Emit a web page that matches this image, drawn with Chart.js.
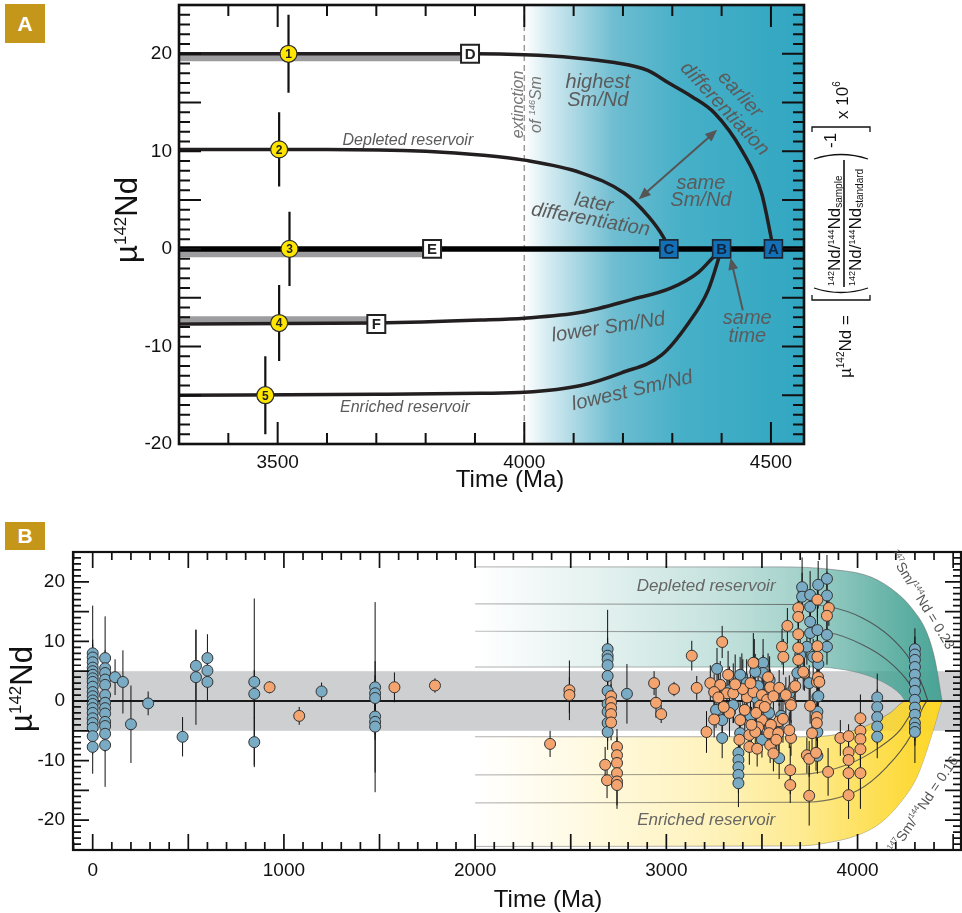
<!DOCTYPE html>
<html>
<head>
<meta charset="utf-8">
<script src="https://cdn.jsdelivr.net/npm/chart.js@4.4.1/dist/chart.umd.min.js"></script>
<style>
  body { margin: 0; background: #fff; }
  #wrap { position: relative; width: 962px; height: 913px; overflow: hidden; }
  canvas { position: absolute; left: 0; }
  #chartA { top: 0; }
  #chartB { top: 500px; }
  .tag { position: absolute; left: 5px; width: 40px; background: #c4961a; color: #fff;
         font: bold 21px 'Liberation Sans', Arial, sans-serif; text-align: center; }
</style>
</head>
<body>
<div id="wrap">
  <canvas id="chartA" width="962" height="500"></canvas>
  <canvas id="chartB" width="962" height="413"></canvas>
  <div class="tag" style="top:4px;height:39px;line-height:39px;">A</div>
  <div class="tag" style="top:522px;height:28px;line-height:28px;">B</div>
</div>
<script>
const FONT = "'Liberation Sans', Arial, Helvetica, sans-serif";
Chart.defaults.font.family = FONT;
Chart.defaults.color = '#111';

// ---------- panel A : model evolution curves (age in Ma, mu142Nd) ----------
const aTickX = [3500, 4000, 4500];
const aTickY = [-20, -10, 0, 10, 20];

const earlyAge = [3300, 3900, 4000, 4100, 4183, 4250, 4293, 4340, 4386, 4441, 4481, 4505];
const earlyMu  = [20, 20, 19.9, 19.6, 19.1, 18.3, 17.0, 15.6, 13.9, 10.1, 5.7, 0];
const laterAge = [3300, 3600, 3800, 3917, 4000, 4115, 4203, 4252, 4282, 4293];
const laterMu  = [10.2, 10.2, 10.0, 9.6, 9.1, 7.8, 5.7, 3.3, 1.2, 0];
const lowerAge = [3300, 3700, 3912, 4000, 4115, 4217, 4298, 4353, 4382, 4400];
const lowerMu  = [-7.7, -7.6, -7.3, -7.1, -6.5, -5.2, -4.0, -2.4, -0.9, 0];
const lowestAge = [3300, 3700, 3912, 4000, 4115, 4197, 4278, 4333, 4373, 4400];
const lowestMu  = [-15, -14.9, -14.8, -14.7, -14.0, -12.7, -10.9, -7.6, -4.2, 0];
const zeroAge = [3300, 4567];
const zeroMu  = [0, 0];

// grey measured ranges
const shadeDAge = [3300, 3890], shadeDMu = [19.6, 19.6];
const shadeEAge = [3300, 3813], shadeEMu = [-0.5, -0.5];
const shadeFAge = [3300, 3700], shadeFMu = [-7.2, -7.2];

// numbered samples
const markerAge = [3522, 3503, 3524, 3503, 3475];
const markerMu  = [20, 10.2, 0, -7.6, -15];
const markerErr = [4, 3.8, 3.8, 3.9, 4];
const markerLabel = ['1', '2', '3', '4', '5'];

const openAge = [3890, 3813, 3700];
const openMu  = [20, 0, -7.7];
const openLabel = ['D', 'E', 'F'];
const filledAge = [4293, 4400, 4505];
const filledMu  = [0, 0, 0];
const filledLabel = ['C', 'B', 'A'];

const extinctionAge = 4000;

// ---------- panel B : compiled measurements ----------
const bTickX = [0, 1000, 2000, 3000, 4000];
const bTickY = [-20, -10, 0, 10, 20];
const bandLow = -5, bandHigh = 5;

const blueAge = [
  0,0,0,0,0,0,0,0,0,0,0,0,0,0,0,0,0,0,0,0,
  65,65,65,65,65,65,65,65,65,65,65,65,65,
  117,158,200,290,470,540,540,600,600,600,845,845,845,1197,
  1477,1477,1477,1477,1477,1477,
  2693,2693,2693,2693,2693,2693,2693,2693,2693,2693,
  2794,
  3265,3260,3292,3292,3350,3395,3386,3386,3377,3377,3377,3377,3377,
  3460,3506,3506,3465,3480,3520,3537,3590,3643,3685,3700,
  3710,3710,3735,3752,3752,3752,3752,3768,3747,
  3790,3790,3790,3790,3790,3795,3795,3794,3840,3840,3840,3840,
  4103,4103,4103,4103,4103,
  4300,4300,4300,4300,4300,4300,4300,4300,4300,4300,4300,4300,4300,
  3420,3440,3470,3540,3600,3330,3500
];
const blueMu = [
  8.0,7.3,6.5,5.6,5.0,4.4,3.8,3.2,2.4,1.5,0.8,0.1,-0.5,-1.2,-2.0,-2.9,-3.7,-4.5,-5.9,-7.7,
  7.2,5.5,4.7,3.6,2.7,1.0,-0.3,-1.2,-2.1,-3.5,-4.2,-5.5,-7.4,
  4.0,3.2,-3.9,-0.4,-6.0,5.9,4.0,7.2,5.1,3.2,3.2,1.2,-6.9,1.6,
  2.3,1.3,0.5,-2.6,-3.5,-4.3,
  8.7,7.6,7.0,6.0,4.2,1.7,-0.5,-1.8,-3.7,-5.2,
  1.2,
  5.4,-1.5,-3.2,-6.2,-0.7,4.0,-5.4,4.4,-8.7,-9.9,-11.1,-12.4,-13.8,
  6.4,6.4,4.7,4.9,2.5,1.0,-2.0,-9.6,1.3,4.7,7.7,
  19.1,17.5,9.1,17.8,15.8,13.3,11.4,7.4,3.0,
  11.9,0.7,-1.8,-5.2,-9.2,6.2,0.8,19.5,20.5,17.7,11.1,9.1,
  0.6,-1.0,-2.7,-4.3,-6.0,
  8.7,7.8,6.9,5.7,4.4,3.0,1.7,0.2,-1.1,-2.3,-3.7,-4.5,-5.2,
  3.0,-2.5,0.5,3.5,-2.5,1.8,-6.5
];
const blueErr = [
  8,3,3,3,3,3,3,3,3,3,3,3,3,3,3,3,3,3,3,4.5,
  7,3,3,3,3,3,3,3,3,3,3,3,7,
  3,5.3,6.5,2,3.3,6,8,4,3,3.2,14,4,4.2,1.5,
  14.3,3,3,3,3,11,
  6.6,3,3,3,3,3,3,3,3,3,
  5,
  3.5,3,3,3.4,3,4,3,3,3,3,3,3,4,
  4,4,3,3,3,3,3,3.5,3,3,3,
  5,4,3,4,3,3,3,3,3,
  4,3,3,3,3,3,3,4,4,4,3,3,
  4,3,3,3,3.6,
  3.5,3,3,3,3,3,3,3,3,3,3,3,5.2,
  4,3,3,4,3,4,3
];

const orangeAge = [
  925,1080,1578,1790,2392,2493,2493,
  2680,2690,2711,2711,2711,2711,2711,2742,2742,2742,2742,2742,2742,
  2936,2946,2973,3040,3133,3159,3210,3292,3230,3282,3250,3250,3317,3350,3323,3272,
  3422,3386,3382,3434,3434,3455,3455,3532,3543,3543,3500,3500,3527,3490,
  3590,3590,3547,3480,3537,3465,3585,3475,3668,3674,3648,3648,3648,3652,3652,3643,
  3722,3716,3752,3762,3735,3747,3747,3846,3783,3787,3787,3787,3793,3800,
  3690,3690,3690,3690,3690,3790,3790,3790,3850,3840,3633,3605,3612,
  3910,3953,3953,3953,3953,3953,4015,4015,4015,4015,4015,
  3400,3410,3440,3470,3515,3560,3575,3610,3625,3560,3330,3300,3360,3445
];
const orangeMu = [
  2.3,-2.5,2.3,2.6,-7.2,1.8,1.0,
  -10.7,-13.3,0.8,-0.2,-1.2,-2.2,-3.6,-7.7,-9.1,-10.4,-12.1,-13.5,-14.1,
  3.0,-0.3,-2.2,2.0,7.6,2.2,-5.2,9.9,3.0,2.7,1.5,-3.1,1.3,1.3,4.4,0.6,
  0.6,-3.2,-6.5,-5.7,-7.7,6.4,1.5,4.0,2.3,-7.4,1.0,-3.2,0.2,-0.8,
  -3.4,2.2,-4.0,-4.4,-5.4,-5.2,-5.4,-8.0,2.3,2.5,-0.3,-11.6,-14.1,-0.7,-6.2,-4.9,
  4.7,4.9,-0.8,-5.4,-9.1,-9.7,-15.9,-11.9,-8.7,3.2,-2.7,-3.7,4.0,3.2,
  15.6,14.1,11.2,8.9,6.9,17.0,9.2,7.4,15.6,14.3,12.6,9.1,7.4,
  -6.2,-5.9,-8.6,-9.9,-12.1,-15.8,-2.9,-5.0,-6.4,-8.1,-12.1,
  2.0,-1.5,3.0,-2.0,-1.0,0.8,-6.5,-3.0,1.0,-8.8,-2.0,-1.0,2.8,-4.0
];
const orangeErr = [
  1,1.5,2.5,1.2,2.2,5,3,
  3,3,3,3,3,3,3,3,3,3,3,4,4,
  2,2.5,1.5,1.2,2.5,2,3.5,2.7,3,4,3,3,4,5,4,4,
  4,3,3,3,3,5,4,4,3,3,3,3,3,3,
  3,3,3,3,3,3,3,3,3,3,3,4,3,3,3,3,
  3,3,3,3,3,3,5,4,3,3,3,3,3,3,
  3,3,3,3,3,3,3,3,3,3,3,3,3,
  3,2,3,3,3,4,4,3,3,3,6,
  5,4,4,3,4,3,3,4,3,3,4,3,5,3
];

// reservoir envelopes (147Sm/144Nd = 0.23 and 0.16)
const depTopAge = [2000, 3600, 3855, 4070, 4206, 4290, 4363, 4405, 4442];
const depTopMu  = [22.5, 22.5, 22.1, 20.8, 18.1, 15.3, 11.4, 6.9, 0];
const depBotAge = [2000, 3800, 3900, 4000, 4100, 4180, 4225, 4255, 4442];
const depBotMu  = [5.7, 5.7, 5.4, 4.8, 3.7, 2.3, 1.1, 0, 0];
const depL1Age = [2000, 3700, 3855, 4028, 4170, 4275, 4343, 4368];
const depL1Mu  = [16.3, 16.2, 15.8, 13.9, 10.8, 6.9, 2.3, 0];
const depL2Age = [2000, 3700, 3855, 4028, 4153, 4258, 4322];
const depL2Mu  = [11.7, 11.6, 11.4, 9.4, 6.9, 3.5, 0];
const enrTopAge = [2000, 3700, 3855, 4028, 4170, 4255, 4440];
const enrTopMu  = [-6, -6, -5.8, -4.4, -2.0, 0, 0];
const enrBotAge = [2000, 3700, 3855, 4000, 4118, 4222, 4311, 4380, 4440];
const enrBotMu  = [-24.4, -24.3, -23.7, -22.5, -20.5, -17.1, -12.7, -6.5, 0];
const enrL1Age = [2000, 3700, 3945, 4118, 4222, 4290, 4318];
const enrL1Mu  = [-12.4, -12.3, -10.7, -7.7, -4.9, -1.5, 0];
const enrL2Age = [2000, 3700, 4000, 4155, 4275, 4343, 4362];
const enrL2Mu  = [-17.1, -17.0, -15.0, -11.0, -6.0, -1.0, 0];
const fadeStartAge = 2000, fadeEndAge = 4450;

// ---------- helpers ----------
function pts(ages, mus) { return ages.map((a, i) => ({x: a, y: mus[i]})); }
function errBars(ages, mus, errs) {
  const out = [];
  ages.forEach((a, i) => {
    out.push({x: a, y: mus[i] - errs[i]}, {x: a, y: mus[i] + errs[i]}, {x: a, y: null});
  });
  return out;
}
function drawRuns(ctx, runs, x, y, style, align) {
  let total = 0;
  const w = runs.map(r => {
    ctx.font = `${style}${r[1]}px ${FONT}`;
    const m = ctx.measureText(r[0]).width; total += m; return m;
  });
  let cx = align === 'center' ? x - total / 2 : x;
  ctx.textAlign = 'left';
  ctx.textBaseline = 'alphabetic';
  runs.forEach((r, i) => {
    ctx.font = `${style}${r[1]}px ${FONT}`;
    ctx.fillText(r[0], cx, y - (r[2] || 0));
    cx += w[i];
  });
}
function drawNote(chart, n) {
  const {ctx, scales: {x, y}} = chart;
  ctx.save();
  ctx.translate(x.getPixelForValue(n.age), y.getPixelForValue(n.mu));
  ctx.rotate((n.angle || 0) * Math.PI / 180);
  ctx.fillStyle = n.color;
  n.lines.forEach((line, i) => {
    const runs = typeof line === 'string' ? [[line, n.size, 0]] : line;
    const yy = (i - (n.lines.length - 1) / 2) * (n.gap || 0) + n.size * 0.36;
    drawRuns(ctx, runs, 0, yy, n.italic ? 'italic ' : '', 'center');
  });
  ctx.restore();
}
function fadeFill(rgb, lo) {
  return (c) => {
    const chart = c.chart;
    if (!chart.chartArea) return `rgba(${rgb},0.5)`;
    const xs = chart.scales.x;
    const g = chart.ctx.createLinearGradient(xs.getPixelForValue(fadeStartAge), 0, xs.getPixelForValue(fadeEndAge), 0);
    const stops = [[0, 0], [0.25, 0.14], [0.5, 0.3], [0.7, 0.5], [0.9, 0.85], [1, 1]];
    stops.forEach(s => g.addColorStop(s[0], `rgba(${rgb},${(lo + s[1] * (1 - lo)).toFixed(3)})`));
    return g;
  };
}

// ---------- plugins ----------
const frameTicks = {
  id: 'frameTicks',
  afterDatasetsDraw(chart, args, o) {
    const {ctx, chartArea: a, scales: {x, y}} = chart;
    ctx.save();
    ctx.strokeStyle = '#111';
    ctx.lineWidth = o.tickWidth;
    ctx.beginPath();
    for (let k = Math.ceil(x.min / o.xMinor); k * o.xMinor <= x.max; k++) {
      const v = k * o.xMinor, px = x.getPixelForValue(v);
      const len = v % o.xMajor === 0 ? o.majorLen : o.minorLen;
      ctx.moveTo(px, a.bottom); ctx.lineTo(px, a.bottom - len);
      ctx.moveTo(px, a.top); ctx.lineTo(px, a.top + len);
    }
    for (let k = Math.ceil(y.min / o.yMinor); k * o.yMinor <= y.max; k++) {
      const v = k * o.yMinor, py = y.getPixelForValue(v);
      const len = v % o.yMajor === 0 ? o.majorLen : o.minorLen;
      ctx.moveTo(a.left, py); ctx.lineTo(a.left + len, py);
      ctx.moveTo(a.right, py); ctx.lineTo(a.right - len, py);
    }
    ctx.stroke();
    ctx.lineWidth = o.frameWidth;
    ctx.strokeRect(a.left, a.top, a.right - a.left, a.bottom - a.top);
    ctx.restore();
  }
};

const pointLabels = {
  id: 'pointLabels',
  afterDatasetsDraw(chart) {
    const ctx = chart.ctx;
    chart.data.datasets.forEach((ds, i) => {
      if (!ds.pointText) return;
      const meta = chart.getDatasetMeta(i);
      ctx.save();
      ctx.font = `bold ${ds.textSize}px ${FONT}`;
      ctx.fillStyle = ds.textColor;
      ctx.textAlign = 'center';
      ctx.textBaseline = 'middle';
      meta.data.forEach((el, j) => ctx.fillText(ds.pointText[j], el.x, el.y + 1));
      ctx.restore();
    });
  }
};

const notesPlugin = {
  id: 'notes',
  afterDatasetsDraw(chart, args, o) {
    (o.items || []).forEach(n => drawNote(chart, n));
    const ctx = chart.ctx;
    (o.arrows || []).forEach(ar => {
      const {x, y} = chart.scales;
      const x0 = x.getPixelForValue(ar.from[0]), y0 = y.getPixelForValue(ar.from[1]);
      const x1 = x.getPixelForValue(ar.to[0]), y1 = y.getPixelForValue(ar.to[1]);
      const ang = Math.atan2(y1 - y0, x1 - x0);
      const head = (hx, hy, an) => {
        ctx.beginPath();
        ctx.moveTo(hx, hy);
        ctx.lineTo(hx - 12 * Math.cos(an) + 5 * Math.sin(an), hy - 12 * Math.sin(an) - 5 * Math.cos(an));
        ctx.lineTo(hx - 12 * Math.cos(an) - 5 * Math.sin(an), hy - 12 * Math.sin(an) + 5 * Math.cos(an));
        ctx.closePath(); ctx.fill();
      };
      ctx.save();
      ctx.strokeStyle = ctx.fillStyle = '#555';
      ctx.lineWidth = 2;
      ctx.beginPath();
      ctx.moveTo(x0 + (ar.both ? 8 * Math.cos(ang) : 0), y0 + (ar.both ? 8 * Math.sin(ang) : 0));
      ctx.lineTo(x1 - 8 * Math.cos(ang), y1 - 8 * Math.sin(ang));
      ctx.stroke();
      head(x1, y1, ang);
      if (ar.both) head(x0, y0, ang + Math.PI);
      ctx.restore();
    });
  }
};

const titlesPlugin = {
  id: 'titles',
  afterDraw(chart, args, o) {
    const ctx = chart.ctx;
    ctx.save();
    ctx.fillStyle = '#111';
    ctx.translate(o.yTitle[0], o.yTitle[1]);
    ctx.rotate(-Math.PI / 2);
    drawRuns(ctx, [['\u00b5', 31, 0], ['142', 17, 11], ['Nd', 31, 0]], 0, 0, '', 'center');
    ctx.restore();
    ctx.save();
    ctx.fillStyle = '#111';
    drawRuns(ctx, [['Time (Ma)', 24, 0]], o.xTitle[0], o.xTitle[1], '', 'center');
    ctx.restore();
    if (o.formula) drawFormula(ctx, o.formula[0], o.formula[1]);
  }
};

function drawFormula(ctx, ox, oy) {
  ctx.save();
  ctx.translate(ox, oy);
  ctx.rotate(-Math.PI / 2);
  ctx.fillStyle = '#111';
  ctx.strokeStyle = '#111';
  drawRuns(ctx, [['\u00b5', 17, 0], ['142', 10, 7], ['Nd =', 17, 0]], 32, 6, '', 'left');
  ctx.lineWidth = 1.3;
  ctx.beginPath();
  ctx.moveTo(115, -33); ctx.lineTo(110, -33); ctx.lineTo(110, 25); ctx.lineTo(115, 25);
  ctx.moveTo(122, -31); ctx.quadraticCurveTo(113, -4, 122, 23);
  ctx.moveTo(251, -31); ctx.quadraticCurveTo(260, -4, 251, 23);
  ctx.moveTo(278, -33); ctx.lineTo(283, -33); ctx.lineTo(283, 25); ctx.lineTo(278, 25);
  ctx.stroke();
  ctx.lineWidth = 1.6;
  ctx.beginPath(); ctx.moveTo(123, -1); ctx.lineTo(250, -1); ctx.stroke();
  drawRuns(ctx, [['142', 9, 6], ['Nd/', 17, 0], ['144', 9, 6], ['Nd', 17, 0], ['sample', 10, -2]], 124, -5, '', 'left');
  drawRuns(ctx, [['142', 9, 6], ['Nd/', 17, 0], ['144', 9, 6], ['Nd', 17, 0], ['standard', 10, -2]], 124, 16, '', 'left');
  drawRuns(ctx, [['-1', 17, 0]], 262, -9, '', 'left');
  drawRuns(ctx, [['x 10', 17, 0], ['6', 10, 8]], 291, 3, '', 'left');
  ctx.restore();
}

const backdropA = {
  id: 'backdropA',
  beforeDatasetsDraw(chart) {
    const {ctx, chartArea: a, scales: {x}} = chart;
    const x0 = x.getPixelForValue(extinctionAge);
    const g = ctx.createLinearGradient(x0, 0, a.right, 0);
    g.addColorStop(0, '#ffffff');
    g.addColorStop(0.08, '#d7ecf2');
    g.addColorStop(0.32, '#6fbdd1');
    g.addColorStop(0.56, '#47b0c8');
    g.addColorStop(1, '#31a6c1');
    ctx.save();
    ctx.fillStyle = g;
    ctx.fillRect(x0, a.top, a.right - x0, a.bottom - a.top);
    ctx.setLineDash([6, 4]);
    ctx.strokeStyle = '#9a9a9a';
    ctx.lineWidth = 1.5;
    ctx.beginPath(); ctx.moveTo(x0, a.top); ctx.lineTo(x0, a.bottom); ctx.stroke();
    ctx.restore();
  }
};

const backdropB = {
  id: 'backdropB',
  beforeDatasetsDraw(chart) {
    const {ctx, chartArea: a, scales: {y}} = chart;
    const y0 = y.getPixelForValue(bandHigh), y1 = y.getPixelForValue(bandLow);
    ctx.save();
    ctx.fillStyle = '#cdcfd1';
    ctx.fillRect(a.left, y0, a.right - a.left, y1 - y0);
    ctx.restore();
  }
};

function axis(min, max, ticks, size, padding, fit) {
  return {
    type: 'linear', min, max,
    grid: {display: false, drawTicks: false},
    border: {display: false},
    ticks: {padding, font: {size: 19}, color: '#111', maxRotation: 0, autoSkip: false, callback: v => String(v)},
    afterBuildTicks: s => { s.ticks = ticks.map(v => ({value: v})); },
    afterFit: s => {
      if (fit === 'w') s.width = size; else s.height = size;
      s.paddingLeft = s.paddingRight = s.paddingTop = s.paddingBottom = 0;
    }
  };
}

function curve(ages, mus, extra) {
  return Object.assign({
    data: pts(ages, mus), showLine: true, pointRadius: 0, borderColor: '#231f20',
    borderWidth: 3.5, cubicInterpolationMode: 'monotone', fill: false
  }, extra);
}

// ---------- chart A ----------
const noteGrey = '#5b5b5b';
new Chart(document.getElementById('chartA'), {
  type: 'line',
  data: {
    datasets: [
      curve(shadeDAge, shadeDMu, {borderColor: '#9d9d9f', borderWidth: 7, order: 9}),
      curve(shadeEAge, shadeEMu, {borderColor: '#9d9d9f', borderWidth: 7, order: 9}),
      curve(shadeFAge, shadeFMu, {borderColor: '#9d9d9f', borderWidth: 6, order: 9}),
      curve(earlyAge, earlyMu, {order: 8}),
      curve(laterAge, laterMu, {order: 8}),
      curve(lowerAge, lowerMu, {order: 8}),
      curve(lowestAge, lowestMu, {order: 8}),
      curve(zeroAge, zeroMu, {borderColor: '#000', borderWidth: 5.5, order: 8}),
      {data: errBars(markerAge, markerMu, markerErr), showLine: true, pointRadius: 0,
       borderColor: '#111', borderWidth: 2.2, spanGaps: false, order: 7},
      {data: pts(markerAge, markerMu), showLine: false, pointRadius: 8.5,
       pointBackgroundColor: '#ffe600', pointBorderColor: '#2b2b2b', pointBorderWidth: 1.2,
       pointText: markerLabel, textColor: '#222', textSize: 12, order: 6},
      {data: pts(openAge, openMu), showLine: false, pointStyle: 'rect', pointRadius: 12.7,
       pointBackgroundColor: '#ffffff', pointBorderColor: '#222', pointBorderWidth: 2,
       pointText: openLabel, textColor: '#222', textSize: 15, order: 5},
      {data: pts(filledAge, filledMu), showLine: false, pointStyle: 'rect', pointRadius: 12.7,
       pointBackgroundColor: '#136fb6', pointBorderColor: '#1d2733', pointBorderWidth: 1.6,
       pointText: filledLabel, textColor: '#10243d', textSize: 15, order: 5}
    ]
  },
  options: {
    responsive: false, animation: false, devicePixelRatio: 1, events: [],
    layout: {autoPadding: false, padding: {left: 0, top: 5, right: 158, bottom: 0}},
    scales: {
      x: axis(3300, 4567, aTickX, 56, 7, 'h'),
      y: axis(-20, 25, aTickY, 179, 7, 'w')
    },
    plugins: {
      legend: {display: false}, tooltip: {enabled: false},
      frameTicks: {xMinor: 100, xMajor: 500, yMinor: 1, yMajor: 5, minorLen: 11, majorLen: 22, tickWidth: 2, frameWidth: 2.6},
      titles: {yTitle: [137, 220], xTitle: [510, 487], formula: [845, 410]},
      notes: {
        items: [
          {age: 3764, mu: 11.2, size: 16, italic: true, color: noteGrey, lines: ['Depleted reservoir']},
          {age: 3758, mu: -16.1, size: 16, italic: true, color: noteGrey, lines: ['Enriched reservoir']},
          {age: 4003, mu: 14.8, angle: -90, size: 16, gap: 18, italic: true, color: '#777',
           lines: ['extinction', [['of ', 16, 0], ['146', 9, 6], ['Sm', 16, 0]]]},
          {age: 4149, mu: 16.3, size: 20, gap: 18.5, italic: true, color: noteGrey, lines: ['highest', 'Sm/Nd']},
          {age: 4424, mu: 15.2, angle: 47, size: 20, gap: 21, italic: true, color: noteGrey, lines: ['earlier', 'differentiation']},
          {age: 4358, mu: 6.0, size: 20, gap: 17.5, italic: true, color: noteGrey, lines: ['same', 'Sm/Nd']},
          {age: 4138, mu: 4.0, angle: 10, size: 20, gap: 17, italic: true, color: noteGrey, lines: ['later', 'differentiation']},
          {age: 4170, mu: -7.9, angle: -8.5, size: 20, italic: true, color: noteGrey, lines: ['lower Sm/Nd']},
          {age: 4218, mu: -14.4, angle: -13, size: 20, italic: true, color: noteGrey, lines: ['lowest Sm/Nd']},
          {age: 4452, mu: -7.9, size: 20, gap: 18, italic: true, color: noteGrey, lines: ['same', 'time']}
        ],
        arrows: [
          {from: [4232, 5.1], to: [4391, 12.2], both: true},
          {from: [4443, -6.3], to: [4418, -0.9], both: false}
        ]
      }
    }
  },
  plugins: [backdropA, frameTicks, pointLabels, notesPlugin, titlesPlugin]
});

// ---------- chart B ----------
const edge = 'rgba(110,110,110,0.55)';
const innerLine = fadeFill('70,70,70', 0.35);
new Chart(document.getElementById('chartB'), {
  type: 'line',
  data: {
    datasets: [
      curve(depTopAge, depTopMu, {borderColor: edge, borderWidth: 1, fill: '+1', backgroundColor: fadeFill('72,164,150', 0), order: 10}),
      curve(depBotAge, depBotMu, {borderColor: edge, borderWidth: 1, order: 10}),
      curve(enrTopAge, enrTopMu, {borderColor: edge, borderWidth: 1, fill: '+1', backgroundColor: fadeFill('253,214,35', 0), order: 10}),
      curve(enrBotAge, enrBotMu, {borderColor: edge, borderWidth: 1, order: 10}),
      curve(depL1Age, depL1Mu, {borderColor: innerLine, borderWidth: 1.1, order: 9}),
      curve(depL2Age, depL2Mu, {borderColor: innerLine, borderWidth: 1.1, order: 9}),
      curve(enrL1Age, enrL1Mu, {borderColor: innerLine, borderWidth: 1.1, order: 9}),
      curve(enrL2Age, enrL2Mu, {borderColor: innerLine, borderWidth: 1.1, order: 9}),
      curve([-103, 4541], [0, 0], {borderColor: '#1a1a1a', borderWidth: 2, order: 8}),
      {data: errBars(blueAge, blueMu, blueErr).concat(errBars(orangeAge, orangeMu, orangeErr)),
       showLine: true, pointRadius: 0, borderColor: '#111', borderWidth: 1, spanGaps: false, order: 7},
      {data: pts(blueAge, blueMu), showLine: false, pointRadius: 5.5,
       pointBackgroundColor: '#7aabc5', pointBorderColor: '#333', pointBorderWidth: 1, order: 6},
      {data: pts(orangeAge, orangeMu), showLine: false, pointRadius: 5.5,
       pointBackgroundColor: '#f4a46e', pointBorderColor: '#333', pointBorderWidth: 1, order: 5}
    ]
  },
  options: {
    responsive: false, animation: false, devicePixelRatio: 1, events: [],
    layout: {autoPadding: false, padding: {left: 0, top: 52, right: 1, bottom: 0}},
    scales: {
      x: axis(-103, 4541, bTickX, 63, 9, 'h'),
      y: axis(-25, 25, bTickY, 73, 8, 'w')
    },
    plugins: {
      legend: {display: false}, tooltip: {enabled: false},
      frameTicks: {xMinor: 100, xMajor: 500, yMinor: 1, yMajor: 5, minorLen: 8, majorLen: 16, tickWidth: 1.7, frameWidth: 2.2},
      titles: {yTitle: [32, 189], xTitle: [548, 407]},
      notes: {
        items: [
          {age: 3208, mu: 19.5, size: 17, italic: true, color: '#666', lines: ['Depleted reservoir']},
          {age: 3208, mu: -19.8, size: 17, italic: true, color: '#666', lines: ['Enriched reservoir']},
          {age: 4338, mu: 17.0, angle: 58.5, size: 14, color: '#555',
           lines: [[['147', 8, 6], ['Sm/', 14, 0], ['144', 8, 6], ['Nd = 0.23', 14, 0]]]},
          {age: 4343, mu: -17.3, angle: -56, size: 14, color: '#555',
           lines: [[['147', 8, 6], ['Sm/', 14, 0], ['144', 8, 6], ['Nd = 0.16', 14, 0]]]}
        ]
      }
    }
  },
  plugins: [backdropB, frameTicks, notesPlugin, titlesPlugin]
});
</script>
</body>
</html>
